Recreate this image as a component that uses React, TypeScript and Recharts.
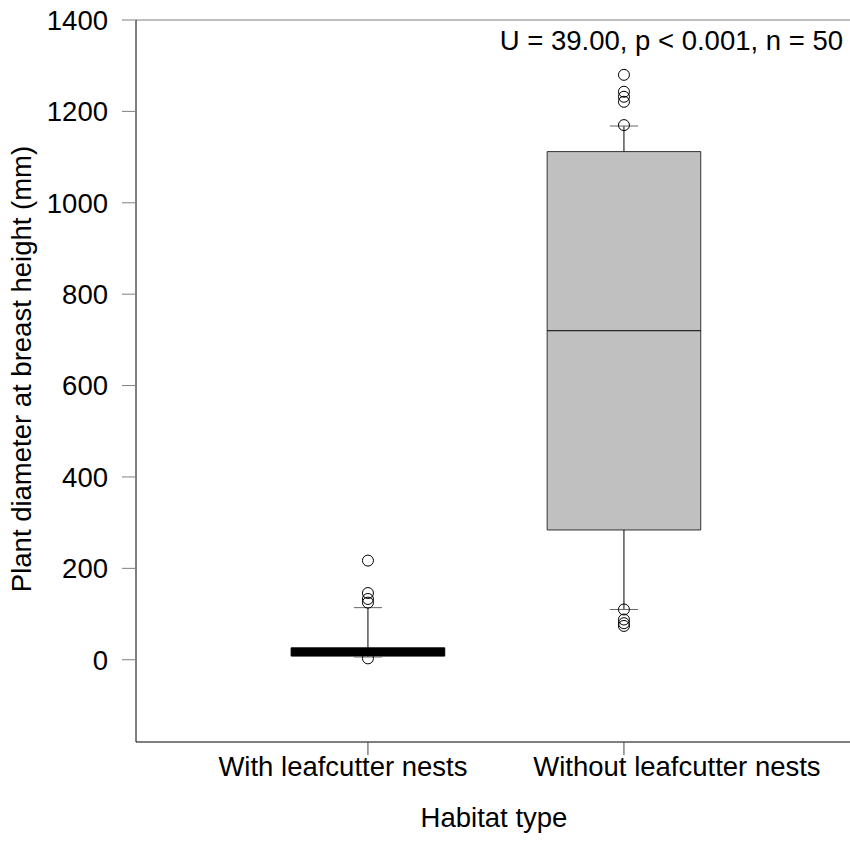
import React from 'react';
import {
  ComposedChart,
  XAxis,
  YAxis,
  Scatter,
  ReferenceArea,
  ReferenceLine,
} from 'recharts';

// Box plot summary
const categories = ['With leafcutter nests', 'Without leafcutter nests'];
const positions = [1, 2];
const q1 = [8, 284];
const median = [18, 720];
const q3 = [26, 1112];
const whiskerLow = [6, 110];
const whiskerHigh = [114, 1168];
const outliersWith = [217, 146, 133, 125, 3];
const outliersWithout = [1280, 1243, 1232, 1221, 1170, 110, 88, 80, 74];
const yTicks = [0, 200, 400, 600, 800, 1000, 1200, 1400];

const FONT = '"Liberation Sans", Arial, sans-serif';
const FONT_SIZE = 27.5;
const BOX_HALF = 0.3;
const CAP_HALF = 0.055;
// the category labels are not centred on their ticks in the original
const labelShift = [-25, 53];

const outlierData = [
  ...outliersWith.map((y) => ({ x: positions[0], y })),
  ...outliersWithout.map((y) => ({ x: positions[1], y })),
];

const OpenCircle = ({ cx, cy }: any) => (
  <circle cx={cx} cy={cy} r={5.5} fill="none" stroke="#000" strokeWidth={1} />
);

const CategoryTick = ({ x, y, payload }: any) => {
  const i = positions.indexOf(payload.value);
  return (
    <text
      x={x + (labelShift[i] ?? 0)}
      y={y}
      dy="0.71em"
      textAnchor="middle"
      fontFamily={FONT}
      fontSize={FONT_SIZE}
      fill="#000"
    >
      {categories[i]}
    </text>
  );
};

const YTitle = () => (
  <text
    x={31}
    y={369}
    transform="rotate(-90 31 369)"
    textAnchor="middle"
    fontFamily={FONT}
    fontSize={FONT_SIZE}
    fill="#000"
  >
    Plant diameter at breast height (mm)
  </text>
);

const XTitle = () => (
  <text x={494} y={827} textAnchor="middle" fontFamily={FONT} fontSize={FONT_SIZE} fill="#000">
    Habitat type
  </text>
);

const StatsLabel = ({ viewBox }: any) => (
  <text
    x={viewBox.x + viewBox.width - 7}
    y={viewBox.y + 30}
    textAnchor="end"
    fontFamily={FONT}
    fontSize={FONT_SIZE}
    fill="#000"
  >
    U = 39.00, p &lt; 0.001, n = 50
  </text>
);

export default function App() {
  return (
    <div style={{ position: 'absolute', left: 0, top: 0, background: '#fff' }}>
      <ComposedChart width={850} height={850} margin={{ top: 20, right: 0, bottom: 0, left: 0 }}>
        <XAxis
          type="number"
          dataKey="x"
          domain={[0.094, 2.883]}
          ticks={positions}
          allowDataOverflow
          interval={0}
          height={108}
          axisLine={{ stroke: '#000', strokeWidth: 1 }}
          tickLine={{ stroke: '#444', strokeWidth: 1 }}
          tickSize={13}
          tickMargin={1}
          tick={<CategoryTick />}
          label={<XTitle />}
        />
        <YAxis
          type="number"
          dataKey="y"
          domain={[-180, 1400]}
          ticks={yTicks}
          allowDataOverflow
          interval={0}
          width={136}
          axisLine={{ stroke: '#000', strokeWidth: 1 }}
          tickLine={{ stroke: '#808080', strokeWidth: 1 }}
          tickSize={14}
          tickMargin={14}
          tick={{ fill: '#000', fontSize: FONT_SIZE, fontFamily: FONT }}
          label={<YTitle />}
        />

        <ReferenceLine y={1400} stroke="#808080" strokeWidth={1} label={<StatsLabel />} />

        {positions.map((p, i) => (
          <React.Fragment key={categories[i]}>
            <ReferenceLine
              segment={[{ x: p, y: q3[i] }, { x: p, y: whiskerHigh[i] }]}
              stroke="#000"
              strokeWidth={1}
            />
            <ReferenceLine
              segment={[{ x: p, y: whiskerLow[i] }, { x: p, y: q1[i] }]}
              stroke="#000"
              strokeWidth={1}
            />
            <ReferenceLine
              segment={[{ x: p - CAP_HALF, y: whiskerHigh[i] }, { x: p + CAP_HALF, y: whiskerHigh[i] }]}
              stroke="#666"
              strokeWidth={1}
            />
            <ReferenceLine
              segment={[{ x: p - CAP_HALF, y: whiskerLow[i] }, { x: p + CAP_HALF, y: whiskerLow[i] }]}
              stroke="#666"
              strokeWidth={1}
            />
            <ReferenceArea
              x1={p - BOX_HALF}
              x2={p + BOX_HALF}
              y1={q1[i]}
              y2={q3[i]}
              fill={i === 0 ? '#000' : '#c0c0c0'}
              fillOpacity={1}
              stroke={i === 0 ? '#000' : '#333'}
              strokeWidth={1}
            />
            <ReferenceLine
              segment={[{ x: p - BOX_HALF, y: median[i] }, { x: p + BOX_HALF, y: median[i] }]}
              stroke="#000"
              strokeWidth={1}
            />
          </React.Fragment>
        ))}

        <Scatter data={outlierData} shape={<OpenCircle />} isAnimationActive={false} />
      </ComposedChart>
    </div>
  );
}
